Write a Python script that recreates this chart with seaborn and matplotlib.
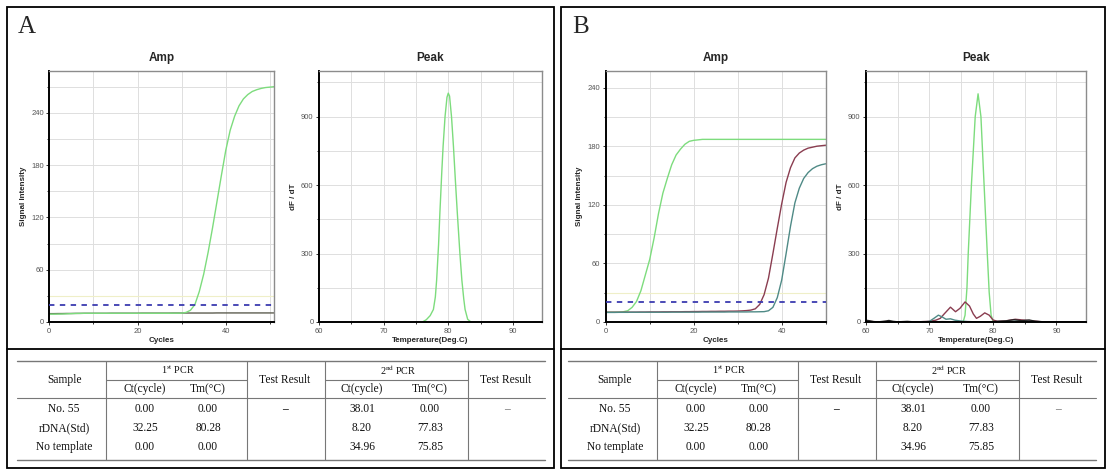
import pandas as pd
import matplotlib
matplotlib.use("Agg")
import matplotlib.pyplot as plt
from matplotlib.lines import Line2D
from matplotlib.patches import Rectangle
from matplotlib.ticker import MultipleLocator
import seaborn as sns

# ---- Data ----
# Panel A, amplification (1st PCR)
amp_a_cycles = list(range(52))
amp_a_rdna = [9.0, 9.0, 9.1, 9.2, 9.4, 9.6, 9.8, 9.9, 10.0, 10.0,
              10.0, 10.0, 10.0, 10.0, 10.0, 10.0, 10.0, 10.0, 10.0, 10.0,
              10.0, 10.0, 10.0, 10.0, 10.0, 10.0, 10.0, 10.0, 10.1, 10.1,
              10.2, 11.0, 13.5, 20.0, 35.0, 55.0, 80.0, 108.0, 138.0, 168.0,
              197.0, 220.0, 236.0, 248.0, 256.0, 261.0, 264.5, 266.5, 268.0, 269.0,
              269.5, 270.0]
amp_a_flat = [9.6, 9.6, 9.7, 9.7, 9.8, 9.8, 9.9, 9.9, 10.0, 10.0,
              10.0, 10.0, 10.0, 10.0, 10.1, 10.1, 10.1, 10.1, 10.1, 10.1,
              10.1, 10.2, 10.2, 10.2, 10.2, 10.2, 10.2, 10.2, 10.3, 10.3,
              10.3, 10.3, 10.3, 10.3, 10.3, 10.3, 10.3, 10.3, 10.4, 10.4,
              10.4, 10.4, 10.4, 10.4, 10.4, 10.4, 10.4, 10.4, 10.4, 10.4,
              10.4, 10.4]

# Panel A, melt peak
peak_a_temp = [76.0, 76.6, 77.2, 77.7, 78.0, 78.2, 78.5, 78.7, 79.0, 79.2,
               79.5, 79.8, 80.0, 80.2, 80.5, 80.8, 81.1, 81.4, 81.8, 82.1,
               82.4, 82.6, 83.0, 83.5]
peak_a_rdna = [0, 10, 28, 55, 110, 184, 340, 477, 660, 770,
               900, 985, 1003, 990, 900, 770, 620, 477, 300, 184,
               100, 55, 12, 0]

# Panel B, amplification (2nd PCR)
amp_b_cycles = list(range(51))
amp_b_rdna = [10.0, 10.0, 10.0, 10.1, 10.5, 11.5, 15.0, 21.0, 32.0, 48.0,
              64.0, 86.0, 111.0, 132.0, 147.0, 161.0, 171.0, 177.0, 182.0, 185.0,
              186.0, 186.5, 187.0, 187.0, 187.0, 187.0, 187.0, 187.0, 187.0, 187.0,
              187.0, 187.0, 187.0, 187.0, 187.0, 187.0, 187.0, 187.0, 187.0, 187.0,
              187.0, 187.0, 187.0, 187.0, 187.0, 187.0, 187.0, 187.0, 187.0, 187.0,
              187.0]
amp_b_ntc = [10.0, 10.0, 10.0, 10.0, 10.0, 10.1, 10.1, 10.1, 10.2, 10.2,
             10.3, 10.3, 10.3, 10.4, 10.4, 10.5, 10.5, 10.5, 10.6, 10.6,
             10.7, 10.7, 10.8, 10.8, 10.9, 10.9, 11.0, 11.0, 11.1, 11.1,
             11.2, 11.4, 11.7, 12.2, 13.5, 18.0, 28.0, 45.0, 70.0, 96.0,
             121.0, 143.0, 158.0, 168.0, 173.0, 176.0, 178.0, 179.0, 180.0, 180.5,
             181.0]
amp_b_no55 = [9.8, 9.8, 9.8, 9.9, 9.9, 9.9, 10.0, 10.0, 10.0, 10.0,
              10.0, 10.0, 10.0, 10.0, 10.0, 10.1, 10.1, 10.1, 10.1, 10.1,
              10.1, 10.1, 10.2, 10.2, 10.2, 10.2, 10.2, 10.2, 10.3, 10.3,
              10.3, 10.3, 10.3, 10.4, 10.4, 10.5, 10.6, 11.5, 15.0, 25.0,
              43.0, 70.0, 98.0, 122.0, 137.0, 147.0, 153.0, 157.0, 159.5, 161.0,
              162.0]

# Panel B, melt peak
peak_b_rdna_t = [75.3, 75.6, 75.9, 76.1, 76.6, 77.2, 77.65, 78.1, 78.6, 79.1,
                 79.4, 79.7, 80.0, 80.4]
peak_b_rdna = [0, 30, 150, 300, 600, 900, 1000, 900, 600, 300,
               130, 30, 5, 0]
peak_b_ntc_t = [60, 61, 62, 63, 64, 66, 68, 69, 70, 71,
                71.7, 72.3, 73.3, 74.1, 74.8, 75.6, 76.3, 76.9, 77.4, 78.0,
                78.7, 79.4, 80.0, 80.7, 82, 83.5, 85, 86.5, 88, 94.6]
peak_b_ntc = [3, 2, 0, 2, 0, 1, 0, 2, 3, 8,
              16, 35, 65, 45, 60, 88, 70, 35, 16, 25,
              40, 30, 9, 3, 5, 12, 8, 4, 0, 0]
peak_b_no55_t = [60, 69, 70, 70.8, 71.4, 72.0, 72.6, 73.3, 74.0, 75,
                 76, 78, 83, 85, 87, 94.6]
peak_b_no55 = [0, 0, 3, 18, 30, 22, 12, 14, 8, 4,
               2, 0, 3, 5, 0, 0]
peak_b_base_t = [60, 60.5, 61.2, 62, 63, 63.6, 64.3, 65, 66.5, 67.5,
                 69, 72, 74, 78, 80, 82, 83.3, 84.5, 85.7, 86.6,
                 88, 94.6]
peak_b_base = [8, 6, 2, 1, 4, 7, 3, 1, 3, 1,
               0, 2, 1, 0, 2, 5, 10, 6, 9, 4,
               1, 0]

threshold = 20

# Result table
samples = ["No. 55", "rDNA(Std)", "No template"]
ct_1st = ["0.00", "32.25", "0.00"]
tm_1st = ["0.00", "80.28", "0.00"]
ct_2nd = ["38.01", "8.20", "34.96"]
tm_2nd = ["0.00", "77.83", "75.85"]

GREEN = "#7ddc7d"
MAROON = "#8a3d50"
TEAL = "#4f8a86"
DARK = "#5e5e50"

sns.set_style("white")
plt.rcParams['font.family'] = ['Liberation Sans', 'DejaVu Sans']
plt.rcParams['mathtext.fontset'] = 'stix'

W, H = 1114, 472
fig = plt.figure(figsize=(W / 100, H / 100), dpi=100)


def rect(l, t, r, b):
    return [l / W, 1 - b / H, (r - l) / W, (b - t) / H]


def fx(x):
    return x / W


def fy(y):
    return 1 - y / H


def line(x0, x1, y0, y1, **kw):
    fig.add_artist(Line2D([fx(x0), fx(x1)], [fy(y0), fy(y1)],
                          transform=fig.transFigure, **kw))


def style(ax, title, xlabel, ylabel, xlim, ylim, xmaj, ymaj):
    ax.set_xlim(*xlim)
    ax.set_ylim(*ylim)
    ax.xaxis.set_major_locator(MultipleLocator(xmaj))
    ax.xaxis.set_minor_locator(MultipleLocator(xmaj / 2))
    ax.yaxis.set_major_locator(MultipleLocator(ymaj))
    ax.yaxis.set_minor_locator(MultipleLocator(ymaj / 2))
    ax.grid(True, which='both', color='#dedede', lw=0.7)
    ax.set_axisbelow(True)
    for s in ['top', 'right']:
        ax.spines[s].set_color('#8c8c8c')
        ax.spines[s].set_linewidth(1.0)
    for s in ['left', 'bottom']:
        ax.spines[s].set_color('black')
        ax.spines[s].set_linewidth(1.4)
    ax.tick_params(which='both', direction='out', length=2.5, width=0.7,
                   color='#333333', labelsize=5.5, labelcolor='#555555', pad=1.5,
                   bottom=True, left=True)
    ax.tick_params(which='minor', length=1.6)
    ax.set_title(title, fontsize=8.5, fontweight='bold', pad=7)
    ax.set_xlabel(xlabel, fontsize=5.8, fontweight='bold', labelpad=2)
    ax.set_ylabel(ylabel, fontsize=5.8, fontweight='bold', labelpad=3)


def plot_series(ax, x, y, color, lw=1.0):
    df = pd.DataFrame({'x': x, 'y': y})
    sns.lineplot(data=df, x='x', y='y', ax=ax, color=color, lw=lw,
                 legend=False, sort=False, estimator=None)


def amp_extras(ax):
    ax.axhline(30, color='#efefc8', lw=0.8, zorder=1.5)
    ax.axhline(threshold, color='#3b3bb0', lw=1.3, ls=(0, (3, 3)), zorder=3)


# Panel A charts
ax = fig.add_axes(rect(49.3, 71, 274.3, 322))
amp_extras(ax)
plot_series(ax, amp_a_cycles, amp_a_flat, DARK)
plot_series(ax, amp_a_cycles, amp_a_rdna, GREEN)
style(ax, 'Amp', 'Cycles', 'Signal Intensity', (0, 51), (0, 288), 20, 60)

ax = fig.add_axes(rect(319, 71, 542, 322))
plot_series(ax, peak_a_temp, peak_a_rdna, GREEN)
style(ax, 'Peak', 'Temperature(Deg.C)', 'dF / dT', (60, 94.5), (0, 1100), 10, 300)

# Panel B charts
ax = fig.add_axes(rect(605.7, 71, 825.7, 322))
amp_extras(ax)
plot_series(ax, amp_b_cycles, amp_b_rdna, GREEN)
plot_series(ax, amp_b_cycles, amp_b_ntc, MAROON)
plot_series(ax, amp_b_cycles, amp_b_no55, TEAL)
style(ax, 'Amp', 'Cycles', 'Signal Intensity', (0, 50), (0, 257), 20, 60)

ax = fig.add_axes(rect(866, 71, 1085.7, 322))
plot_series(ax, peak_b_rdna_t, peak_b_rdna, GREEN)
plot_series(ax, peak_b_ntc_t, peak_b_ntc, MAROON)
plot_series(ax, peak_b_no55_t, peak_b_no55, TEAL)
plot_series(ax, peak_b_base_t, peak_b_base, '#222222', lw=0.9)
style(ax, 'Peak', 'Temperature(Deg.C)', 'dF / dT', (60, 94.6), (0, 1100), 10, 300)

# Panel frames
for (l, r, letter) in [(7, 554, 'A'), (561, 1105, 'B')]:
    fig.add_artist(Rectangle((fx(l), fy(468)), fx(r) - fx(l), fy(7) - fy(468),
                             transform=fig.transFigure, fill=False,
                             edgecolor='black', lw=1.3))
    line(l, r, 349, 349, color='black', lw=1.3)
    fig.text(fx(l + 11), fy(33), letter, family='Liberation Serif',
             fontsize=18, ha='left', va='baseline')


def draw_table(dx):
    serif = dict(family='Liberation Serif', fontsize=8.3, ha='center', va='center',
                 color='#111111')
    L, R = 17 + dx, 545 + dx
    top, mid, hdr, bot = 361, 380, 398, 460
    seps = [106, 247, 325, 468]
    line(L, R, top, top, color='#777777', lw=1.0)
    line(L, R, bot, bot, color='#777777', lw=1.0)
    line(L, R, hdr, hdr, color='#777777', lw=0.8)
    line(106 + dx, 247 + dx, mid, mid, color='#777777', lw=0.8)
    line(325 + dx, 468 + dx, mid, mid, color='#777777', lw=0.8)
    for s in seps:
        line(s + dx, s + dx, top, bot, color='#777777', lw=0.8)

    fig.text(fx(64 + dx), fy(380), 'Sample', **serif)
    fig.text(fx(178 + dx), fy(370), r'1$^{\rm st}$ PCR', **dict(serif, fontsize=7.3))
    fig.text(fx(398 + dx), fy(370), r'2$^{\rm nd}$ PCR', **dict(serif, fontsize=7.3))
    fig.text(fx(285 + dx), fy(380), 'Test Result', **serif)
    fig.text(fx(506 + dx), fy(380), 'Test Result', **serif)
    for cx in (145, 362):
        fig.text(fx(cx + dx), fy(389), 'Ct(cycle)', **serif)
    for cx in (208, 430):
        fig.text(fx(cx + dx), fy(389), 'Tm(\u00b0C)', **serif)

    rows_y = [409.5, 428, 447]
    for i, y in enumerate(rows_y):
        fig.text(fx(64 + dx), fy(y), samples[i], **serif)
        fig.text(fx(145 + dx), fy(y), ct_1st[i], **serif)
        fig.text(fx(208 + dx), fy(y), tm_1st[i], **serif)
        fig.text(fx(362 + dx), fy(y), ct_2nd[i], **serif)
        fig.text(fx(430 + dx), fy(y), tm_2nd[i], **serif)
    fig.text(fx(285 + dx), fy(rows_y[0]), '\u2013', **dict(serif, fontweight='bold'))
    fig.text(fx(507 + dx), fy(rows_y[0]), '\u2013', **dict(serif, color='#666666'))


draw_table(0)
draw_table(551)

fig.savefig('out.png', dpi=100)
